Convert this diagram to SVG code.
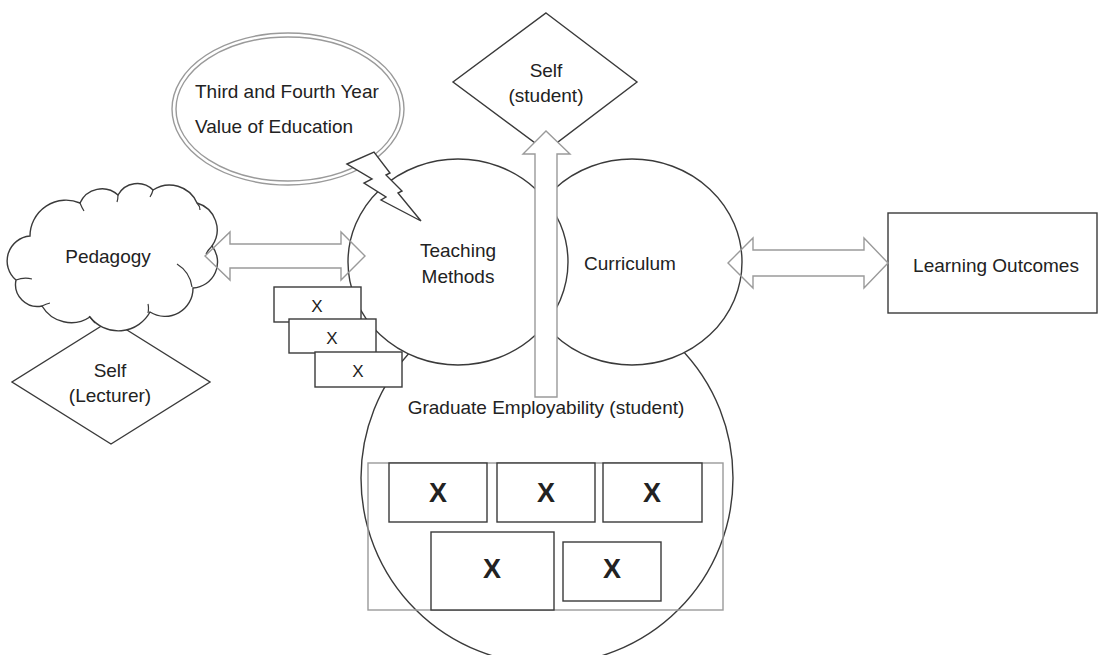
<svg xmlns="http://www.w3.org/2000/svg" width="1099" height="655" viewBox="0 0 1099 655">
<style>
.ln{fill:#fff;stroke:#3a3a3a;stroke-width:1.4}
.gr{fill:none;stroke:#9a9a9a;stroke-width:1.4}
.grw{fill:#fff;stroke:#9a9a9a;stroke-width:1.4}
.t{font-family:"Liberation Sans",Arial,sans-serif;font-size:19px;fill:#222;text-anchor:middle}
.tl{text-anchor:start}
.xs{font-size:17px}
.xb{font-size:27px;font-weight:bold}
</style>
<rect width="1099" height="655" fill="#fff"/>
<g id="graduate-employability">
  <circle class="ln" cx="547" cy="478" r="186"/>
  <rect class="gr" x="368" y="463" width="355" height="147"/>
  <rect class="ln" x="389" y="463" width="98" height="59"/>
  <rect class="ln" x="497" y="463" width="98" height="59"/>
  <rect class="ln" x="603" y="463" width="99" height="59"/>
  <rect class="ln" x="431" y="532" width="123" height="78"/>
  <rect class="ln" x="563" y="542" width="98" height="59"/>
  <text class="t" x="546" y="414">Graduate Employability (student)</text>
  <text class="t xb" x="438" y="502">X</text>
  <text class="t xb" x="546" y="502">X</text>
  <text class="t xb" x="652" y="502">X</text>
  <text class="t xb" x="492" y="578">X</text>
  <text class="t xb" x="612" y="578">X</text>
</g>
<g id="curriculum">
  <ellipse class="ln" cx="632" cy="262" rx="110" ry="103"/>
  <text class="t" x="630" y="270">Curriculum</text>
</g>
<g id="teaching-methods">
  <ellipse class="ln" cx="458" cy="262" rx="110" ry="103"/>
  <text class="t" x="458" y="257">Teaching</text>
  <text class="t" x="458" y="283">Methods</text>
</g>
<g id="x-box-1">
  <rect class="ln" x="274" y="287" width="87" height="35"/>
  <text class="t xs" x="317" y="312">X</text>
</g>
<g id="x-box-2">
  <rect class="ln" x="289" y="319" width="87" height="34"/>
  <text class="t xs" x="332" y="344">X</text>
</g>
<g id="x-box-3">
  <rect class="ln" x="315" y="352" width="87" height="35"/>
  <text class="t xs" x="358" y="377">X</text>
</g>
<g id="self-lecturer">
  <polygon class="ln" points="111,320 210,382 111,444 12,382"/>
  <text class="t" x="110" y="377">Self</text>
  <text class="t" x="110" y="402">(Lecturer)</text>
</g>
<g id="pedagogy">
  <path class="ln" d="M16,280 A25,25 0 0 1 30,236 A36,36 0 0 1 80,203 A24,24 0 0 1 118,195 A22,22 0 0 1 153,190 A30,30 0 0 1 197,203 A28,28 0 0 1 212,246 A26,26 0 0 1 193,288 A28,28 0 0 1 150,312 A36,36 0 0 1 90,317 A34,34 0 0 1 42,306 A22,22 0 0 1 16,280 Z"/>
  <path fill="none" stroke="#3a3a3a" stroke-width="1.2" d="M16,280 Q24,277 32,279 M80,203 Q82,208 84,211 M118,195 Q118,199 117,202 M153,190 Q152,194 150,197 M197,203 Q200,206 200,210 M212,246 Q208,250 206,254 M177,264 Q190,272 192,287 M148,304 Q149,308 148,313 M89,316 Q92,320 95,323 M42,306 Q46,304 50,303"/>
  <text class="t" x="108" y="263">Pedagogy</text>
</g>
<g id="value-of-education">
  <ellipse class="gr" cx="288" cy="109" rx="116" ry="76"/>
  <ellipse class="gr" cx="288" cy="109" rx="112" ry="72"/>
  <text class="t tl" x="195" y="98">Third and Fourth Year</text>
  <text class="t tl" x="195" y="133">Value of Education</text>
</g>
<g id="self-student">
  <polygon class="ln" points="546,13 637,82 546,151 453,82"/>
  <text class="t" x="546" y="77">Self</text>
  <text class="t" x="546" y="102">(student)</text>
</g>
<g id="learning-outcomes">
  <rect class="ln" x="888" y="213" width="209" height="100"/>
  <text class="t" x="996" y="272">Learning Outcomes</text>
</g>
<g id="connectors">
  <polygon class="gr" points="205,256 230,232 230,244 341,244 341,232 365,256 341,280 341,268 230,268 230,280"/>
  <polygon class="gr" points="728,263 753,238 753,250 864,250 864,238 888,263 864,288 864,276 753,276 753,288"/>
  <polygon class="grw" points="535,397 535,154 523,154 546,131 570,154 557,154 557,397"/>
  <polygon class="ln" points="347,164 374,152 390,173 386,175 402,191 398,193 421,221 381,200 386,197 364,183 372,179"/>
</g>
</svg>
